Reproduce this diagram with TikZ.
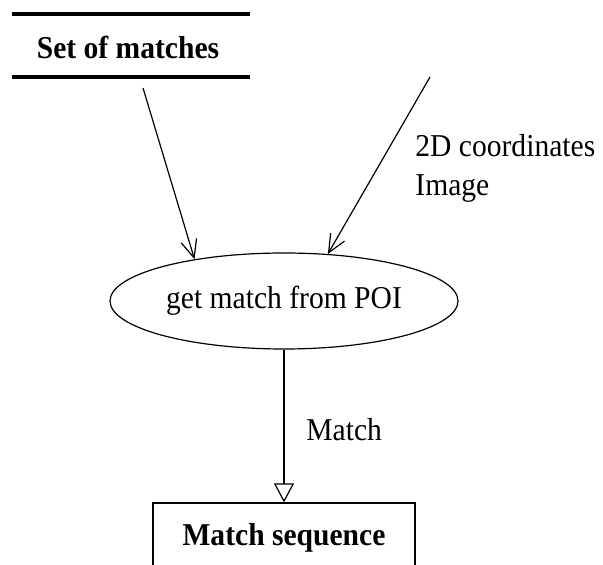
\documentclass[tikz,border=0pt]{standalone}
\usepackage{fontspec}
\setmainfont[FakeStretch=0.93]{Liberation Serif}
\usepackage{tikz}
\usetikzlibrary{arrows.meta,shapes.geometric}

\tikzset{
  flow/.style={line width=0.6pt, -{Straight Barb[length=9pt,width=8pt,line width=0.6pt]}},
  outflow/.style={line width=0.6pt, -{Triangle[open,length=9.5pt,width=10pt,line width=0.6pt]}},
  store/.style={line width=2.3pt},
  process/.style={draw, ellipse, line width=0.6pt, minimum width=174pt, minimum height=48pt, inner sep=0pt},
  entity/.style={draw, line width=0.6pt, minimum width=131pt, minimum height=35pt, execute at begin node=\bfseries},
  lbl/.style={anchor=west, inner sep=0pt}
}

\begin{document}
\begin{tikzpicture}[x=0.5pt, y=-0.5pt, font=\fontsize{15.9}{19}\selectfont]
      \useasboundingbox (0, 0) rectangle (603, 565);
      \clip (0, 0) rectangle (603, 565);

      \coordinate (m1) at (143, 88);
      \coordinate (c1) at (430, 77);

      \node [minimum width=119pt, minimum height=31.5pt, execute at begin node=\bfseries] (matches) at (128, 47) {Set of matches};
      \draw [store] (12, 14) -- (250, 14);
      \draw [store] (12, 77) -- (250, 77);

      \node [process] (poi) at (284, 301) {get match from POI};
      \node [entity] (seq) at (284, 538) {Match sequence};

      \draw [flow] (m1) -- (poi.155.3);
      \draw [flow] (c1) -- (poi.47.5);
      \draw [outflow] (poi.south) -- (seq.north);

      \node [lbl] (coords) at (415, 146) {2D coordinates};
      \node [lbl] (image) at (415, 189) {Image};
      \node [lbl] (match) at (306, 430) {Match};
     \end{tikzpicture}
\end{document}
